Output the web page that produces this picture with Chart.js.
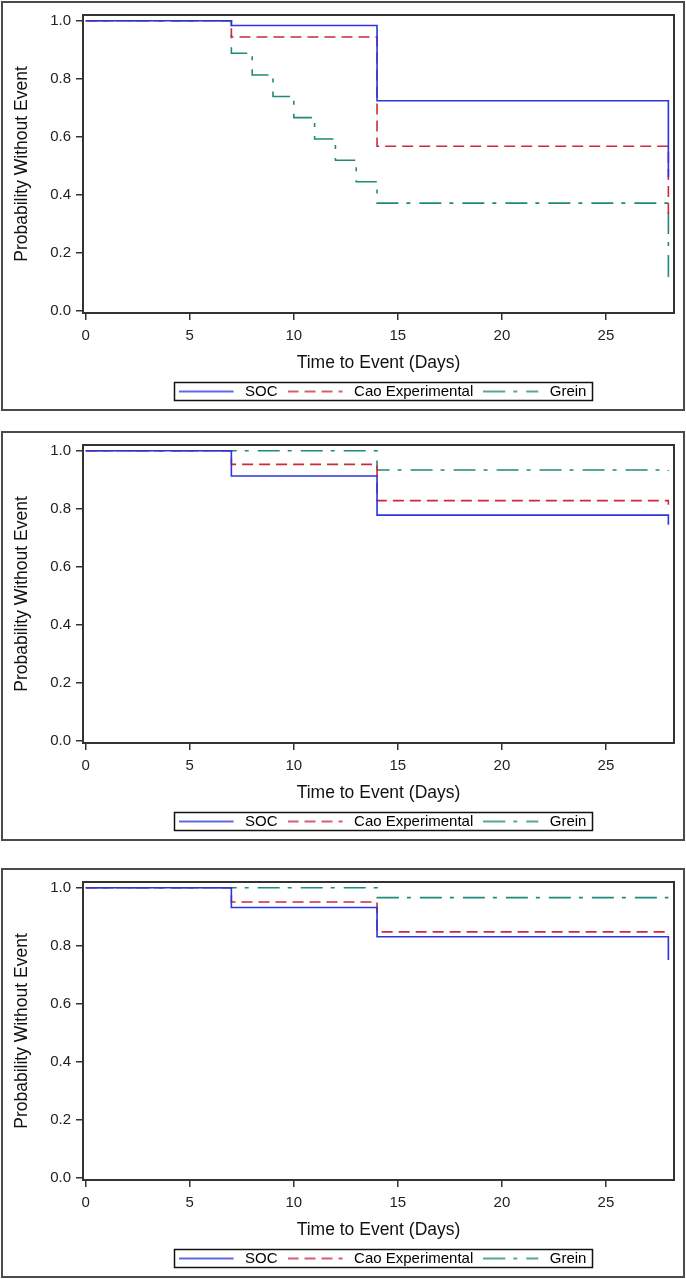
<!DOCTYPE html>
<html>
<head>
<meta charset="utf-8">
<script src="https://cdn.jsdelivr.net/npm/chart.js@4"></script>
<style>
  html, body { margin: 0; padding: 0; background: #fff; }
  body { width: 686px; height: 1279px; position: relative; overflow: hidden; }
  .panel { position: absolute; left: 1px; width: 684px; height: 410px; box-sizing: border-box; border: 2px solid #4a4a4a; background: #fff; }
  .panel canvas { display: block; }
</style>
</head>
<body>
<div class="panel" style="top:1px"><canvas id="c1" width="680" height="406"></canvas></div>
<div class="panel" style="top:431px"><canvas id="c2" width="680" height="406"></canvas></div>
<div class="panel" style="top:868px"><canvas id="c3" width="680" height="406"></canvas></div>
<script>
// ---- shared axis / legend data ----
const seriesNames = ['SOC', 'Cao Experimental', 'Grein'];
const xTicks = [0, 5, 10, 15, 20, 25];
const yTicks = [0.0, 0.2, 0.4, 0.6, 0.8, 1.0];
const xTitle = 'Time to Event (Days)';
const yTitle = 'Probability Without Event';

// ---- panel 1 ----
const p1SocDays = [0, 7, 14, 28];
const p1SocSurv = [1.0, 0.984, 0.724, 0.46];
const p1CaoDays = [0, 7, 14, 28];
const p1CaoSurv = [1.0, 0.944, 0.567, 0.32];
const p1GreinDays = [0, 7, 8, 9, 10, 11, 12, 13, 14, 28];
const p1GreinSurv = [1.0, 0.888, 0.813, 0.739, 0.666, 0.592, 0.519, 0.445, 0.371, 0.11];

// ---- panel 2 ----
const p2SocDays = [0, 7, 14, 28];
const p2SocSurv = [1.0, 0.913, 0.778, 0.745];
const p2CaoDays = [0, 7, 14, 28];
const p2CaoSurv = [1.0, 0.953, 0.828, 0.814];
const p2GreinDays = [0, 14, 28];
const p2GreinSurv = [1.0, 0.934, 0.93];

// ---- panel 3 ----
const p3SocDays = [0, 7, 14, 28];
const p3SocSurv = [1.0, 0.932, 0.831, 0.751];
const p3CaoDays = [0, 7, 14, 28];
const p3CaoSurv = [1.0, 0.951, 0.848, 0.84];
const p3GreinDays = [0, 14, 28];
const p3GreinSurv = [1.0, 0.966, 0.966];

// ---- styles ----
const FONT = "'Liberation Sans', Arial, Helvetica, sans-serif";
const seriesStyles = [
  { color: '#2b35e0', dash: [] },
  { color: '#cc2a3c', dash: [11, 6] },
  { color: '#1f8a78', dash: [22, 8, 4, 9] }
];
const LINE_W = 1.6;

function toPoints(days, surv) {
  return days.map((d, i) => ({ x: d, y: surv[i] }));
}

// legend line samples (55px line inside a 59px box)
function sampleCanvas(color, dash) {
  const c = document.createElement('canvas');
  c.width = 59; c.height = 4;
  const x = c.getContext('2d');
  x.strokeStyle = color; x.lineWidth = LINE_W; x.setLineDash(dash);
  x.beginPath(); x.moveTo(0, 2); x.lineTo(55, 2); x.stroke();
  return c;
}
const legendSamples = seriesStyles.map(s => sampleCanvas(s.color, s.dash));

const framePlugin = {
  id: 'framePlugin',
  afterLayout(chart) {
    const lg = chart.legend;
    if (lg) { lg.left += 4; lg.right += 4; }
  },
  afterDraw(chart) {
    const ctx = chart.ctx;
    const a = chart.chartArea;
    ctx.save();
    ctx.strokeStyle = '#333';
    ctx.lineWidth = 2;
    ctx.setLineDash([]);
    ctx.strokeRect(a.left, a.top, a.right - a.left, a.bottom - a.top);
    const hb = chart.legend && chart.legend.legendHitBoxes;
    if (hb && hb.length) {
      let l = Infinity, r = -Infinity, t = Infinity, b = -Infinity;
      hb.forEach(h => {
        l = Math.min(l, h.left); r = Math.max(r, h.left + h.width);
        t = Math.min(t, h.top); b = Math.max(b, h.top + h.height);
      });
      ctx.strokeStyle = '#111';
      ctx.lineWidth = 1.5;
      ctx.strokeRect(Math.round(l - 5) + 0.5, Math.round(t - 2) + 0.5, Math.round(r - l + 10), Math.round(b - t + 3));
    }
    ctx.restore();
  }
};

function makePanel(id, daysList, survList) {
  const datasets = seriesNames.map((name, i) => ({
    label: name,
    data: toPoints(daysList[i], survList[i]),
    borderColor: seriesStyles[i].color,
    backgroundColor: seriesStyles[i].color,
    borderDash: seriesStyles[i].dash,
    borderWidth: LINE_W,
    stepped: 'before',
    pointRadius: 0,
    fill: false
  }));
  return new Chart(document.getElementById(id), {
    type: 'line',
    data: { datasets },
    plugins: [framePlugin],
    options: {
      responsive: false,
      animation: false,
      devicePixelRatio: 1,
      layout: { padding: { top: 12, right: 9, left: 0, bottom: 0 } },
      plugins: {
        tooltip: { enabled: false },
        legend: {
          position: 'bottom',
          fullSize: false,
          labels: {
            usePointStyle: true,
            pointStyleWidth: 59,
            padding: 10,
            color: '#111',
            font: { family: FONT, size: 15 },
            generateLabels: chart => chart.data.datasets.map((ds, i) => ({
              text: ds.label,
              fillStyle: ds.borderColor,
              strokeStyle: ds.borderColor,
              lineWidth: ds.borderWidth,
              lineDash: ds.borderDash,
              pointStyle: legendSamples[i],
              hidden: false,
              datasetIndex: i
            }))
          }
        }
      },
      scales: {
        x: {
          type: 'linear',
          min: -0.13,
          max: 28.27,
          afterFit: s => { s.height = 61; s.paddingLeft = 0; s.paddingRight = 0; },
          afterBuildTicks: s => { s.ticks = xTicks.map(v => ({ value: v })); },
          ticks: { color: '#222', padding: 7, font: { family: FONT, size: 15 }, maxRotation: 0, callback: v => String(v) },
          grid: { drawOnChartArea: false, drawTicks: true, tickLength: 7, color: '#333', lineWidth: 1.5 },
          border: { display: false },
          title: { display: true, text: xTitle, color: '#111', font: { family: FONT, size: 17.5 }, padding: { top: 0, bottom: 0 } }
        },
        y: {
          type: 'linear',
          min: -0.008,
          max: 1.02,
          afterFit: s => { s.width = 80; s.paddingTop = 0; s.paddingBottom = 0; },
          afterBuildTicks: s => { s.ticks = yTicks.map(v => ({ value: v })); },
          ticks: { color: '#222', padding: 5, font: { family: FONT, size: 15 }, callback: v => Number(v).toFixed(1) },
          grid: { drawOnChartArea: false, drawTicks: true, tickLength: 7, color: '#333', lineWidth: 1.5 },
          border: { display: false },
          title: { display: true, text: yTitle, color: '#111', font: { family: FONT, size: 17.5 }, padding: { top: 9, bottom: 0 } }
        }
      }
    }
  });
}

makePanel('c1', [p1SocDays, p1CaoDays, p1GreinDays], [p1SocSurv, p1CaoSurv, p1GreinSurv]);
makePanel('c2', [p2SocDays, p2CaoDays, p2GreinDays], [p2SocSurv, p2CaoSurv, p2GreinSurv]);
makePanel('c3', [p3SocDays, p3CaoDays, p3GreinDays], [p3SocSurv, p3CaoSurv, p3GreinSurv]);
</script>
</body>
</html>
